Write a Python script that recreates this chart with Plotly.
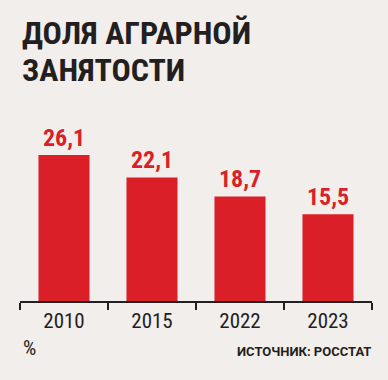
import plotly.graph_objects as go

years = ["2010", "2015", "2022", "2023"]
shares = [26.1, 22.1, 18.7, 15.5]

title_lines = ["ДОЛЯ АГРАРНОЙ", "ЗАНЯТОСТИ"]
unit_text = "%"
source_text = "ИСТОЧНИК: РОССТАТ"

BG = "#f2eeec"
RED = "#da1f28"
DARK = "#231f20"
FONT = "Roboto Condensed, DejaVu Sans Condensed, sans-serif"

W, H = 388, 380
ML, MR, MT, MB = 20, 16, 120, 79
plot_h = H - MT - MB

def py(pix):
    return (H - MB - pix) / plot_h

def px(pix):
    return (pix - ML) / (W - ML - MR)

fig = go.Figure(go.Bar(
    x=years, y=shares,
    marker=dict(color=RED, line=dict(width=0)),
    texttemplate="%{y:.1f}", textposition="outside",
    textfont=dict(family=FONT, size=24, color=RED, weight="bold"),
    cliponaxis=False,
))

annotations = []
for i, line in enumerate(title_lines):
    annotations.append(dict(
        text="<b>" + line + "</b>", xref="paper", yref="paper",
        x=px(20), y=py(12 + 37 * i), xanchor="left", yanchor="top", showarrow=False,
        align="left", font=dict(family=FONT, size=32, color=DARK)))
annotations += [
    dict(text=unit_text, xref="paper", yref="paper",
         x=px(21), y=py(362), xanchor="left", yanchor="bottom", showarrow=False,
         font=dict(family=FONT, size=21, color=DARK)),
    dict(text="<b>" + source_text + "</b>", xref="paper", yref="paper",
         x=px(373), y=py(361), xanchor="right", yanchor="bottom", showarrow=False,
         font=dict(family="Roboto, DejaVu Sans, sans-serif", size=13, color=DARK)),
]

fig.update_layout(
    width=W, height=H,
    margin=dict(l=ML, r=MR, t=MT, b=MB),
    paper_bgcolor=BG, plot_bgcolor=BG,
    separators=", ",
    bargap=0.42,
    showlegend=False,
    xaxis=dict(
        type="category", range=[-0.5, 3.5],
        showline=True, linecolor=DARK, linewidth=1.5,
        ticks="outside", tickson="boundaries", ticklen=7, tickwidth=1.5, tickcolor=DARK,
        tickfont=dict(family=FONT, size=21, color=DARK),
        showgrid=False, zeroline=False,
    ),
    yaxis=dict(range=[0, plot_h / 5.59], visible=False, showgrid=False, zeroline=False),
    annotations=annotations,
)

fig.write_html(
    "out.html",
    config={"displayModeBar": False},
    post_script="document.body.style.margin='0';document.body.style.background='%s';" % BG,
)
